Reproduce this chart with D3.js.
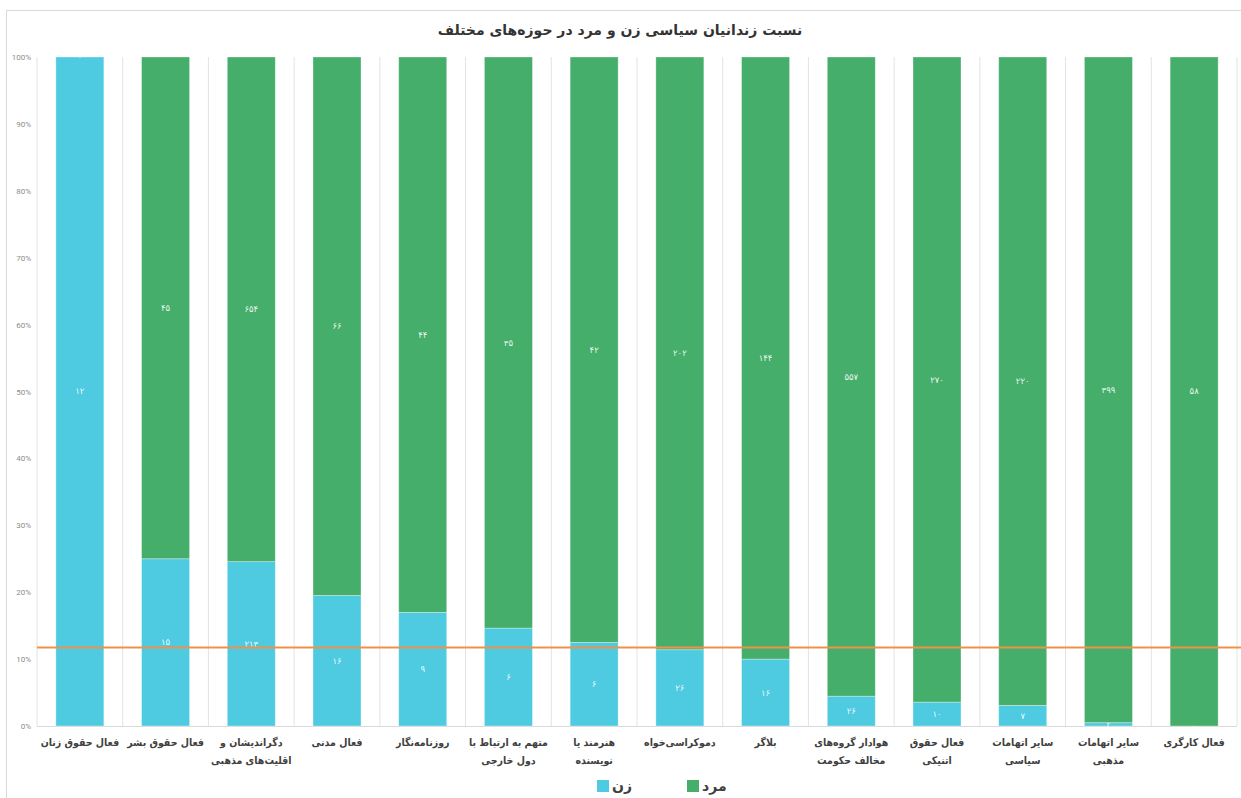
<!DOCTYPE html>
<html>
<head>
<meta charset="utf-8">
<script src="https://cdn.jsdelivr.net/npm/d3@7"></script>
<style>
  body { margin: 0; background: #fff; }
  svg { display: block; font-family: "DejaVu Sans", sans-serif; }
</style>
</head>
<body>
<svg id="chart" width="1241" height="798"></svg>
<script>
// categories, label lines split by "|"
const categories = [
    'فعال حقوق زنان',
    'فعال حقوق بشر',
    'دگراندیشان و|اقلیت‌های مذهبی',
    'فعال مدنی',
    'روزنامه‌نگار',
    'متهم به ارتباط با|دول خارجی',
    'هنرمند یا|نویسنده',
    'دموکراسی‌خواه',
    'بلاگر',
    'هوادار گروه‌های|مخالف حکومت',
    'فعال حقوق|اتنیکی',
    'سایر اتهامات|سیاسی',
    'سایر اتهامات|مذهبی',
    'فعال کارگری'
];
const women = [12, 15, 213, 16, 9, 6, 6, 26, 16, 26, 10, 7, 2, 0];
const men = [0, 45, 654, 66, 44, 35, 42, 202, 144, 557, 270, 220, 399, 58];
const yTicks = [0, 0.1, 0.2, 0.3, 0.4, 0.5, 0.6, 0.7, 0.8, 0.9, 1];
const seriesNames = ['زن', 'مرد'];
const title = 'نسبت زندانیان سیاسی زن و مرد در حوزه‌های مختلف';

const colors = { 'زن': '#4ecbe0', 'مرد': '#46ae6b' };
const faDigits = '۰۱۲۳۴۵۶۷۸۹';
const toFa = (n) => String(n).replace(/\d/g, (c) => faDigits[+c]);

const svg = d3.select('#chart');
const margin = { left: 37, right: 4, top: 57, bottom: 72 };
const W = 1241, H = 798;

// outer frame
svg.append('rect')
    .attr('x', 6.5).attr('y', 10.5)
    .attr('width', W).attr('height', H)
    .attr('fill', 'none')
    .attr('stroke', '#d9d9d9');

const rows = categories.map((c, i) => {
    const total = women[i] + men[i];
    return { cat: c, w: women[i], m: men[i], wp: women[i] / total, mp: men[i] / total };
});

const x = d3.scaleBand()
    .domain(categories)
    .range([margin.left, W - margin.right])
    .paddingInner(0.44)
    .paddingOuter(0.22);

const y = d3.scaleLinear().domain([0, 1]).range([H - margin.bottom, margin.top]);

// vertical grid lines between categories
const step = x.step();
const bounds = d3.range(categories.length + 1).map((i) => margin.left + i * step);
svg.append('g').selectAll('line')
    .data(bounds)
    .enter().append('line')
    .attr('x1', (d) => d).attr('x2', (d) => d)
    .attr('y1', y(1)).attr('y2', y(0))
    .attr('stroke', '#e3e3e3').attr('stroke-width', 1);

// baseline
svg.append('line')
    .attr('x1', margin.left).attr('x2', W - margin.right)
    .attr('y1', y(0) + 0.5).attr('y2', y(0) + 0.5)
    .attr('stroke', '#d9d9d9');

// y axis
const yAxis = d3.axisLeft(y).tickValues(yTicks).tickFormat(d3.format('.0%')).tickSize(0).tickPadding(6);
const yg = svg.append('g').attr('transform', `translate(${margin.left},0)`).call(yAxis);
yg.select('.domain').remove();
yg.selectAll('text').attr('fill', '#8c8c8c').attr('font-size', 8).attr('font-family', 'Roboto, sans-serif');

// stacked bars
const stack = d3.stack().keys(['wp', 'mp'])(rows);
const layers = svg.append('g').selectAll('g')
    .data(stack)
    .enter().append('g')
    .attr('fill', (d, i) => colors[seriesNames[i]]);

layers.selectAll('rect')
    .data((d) => d)
    .enter().append('rect')
    .attr('x', (d) => x(d.data.cat))
    .attr('width', x.bandwidth())
    .attr('y', (d) => y(d[1]))
    .attr('height', (d) => y(d[0]) - y(d[1]))
    .attr('stroke', '#ffffff')
    .attr('stroke-opacity', 0.4)
    .attr('stroke-width', 0.8);

// data labels
layers.each(function(layer, li) {
    const key = li === 0 ? 'w' : 'm';
    d3.select(this).selectAll('text')
        .data(layer)
        .enter().append('text')
        .attr('x', (d) => x(d.data.cat) + x.bandwidth() / 2)
        .attr('y', (d) => (y(d[0]) + y(d[1])) / 2)
        .attr('dy', '0.35em')
        .attr('text-anchor', 'middle')
        .attr('fill', '#ffffff')
        .attr('fill-opacity', 0.9)
        .attr('font-size', 8.5)
        .text((d) => toFa(d.data[key]));
});

// average line
const avg = d3.sum(women) / (d3.sum(women) + d3.sum(men));
svg.append('line')
    .attr('x1', margin.left).attr('x2', W)
    .attr('y1', y(avg)).attr('y2', y(avg))
    .attr('stroke', '#f0914a').attr('stroke-width', 2);

// x labels
const xl = svg.append('g').selectAll('text')
    .data(categories)
    .enter().append('text')
    .attr('transform', (d) => `translate(${x(d) + x.bandwidth() / 2},${y(0) + 20})`)
    .attr('fill', '#404040')
    .attr('font-family', '"DejaVu Sans Condensed", "DejaVu Sans", sans-serif')
    .attr('font-size', 10.5)
    .attr('font-weight', 'bold');
xl.selectAll('tspan')
    .data((d) => d.split('|'))
    .enter().append('tspan')
    .attr('x', 0)
    .attr('y', (d, i) => i * 18)
    .attr('text-anchor', 'middle')
    .text((d) => d);

// title
svg.append('text')
    .attr('x', 620).attr('y', 35)
    .attr('text-anchor', 'middle')
    .attr('fill', '#333')
    .attr('font-size', 14)
    .attr('font-weight', 'bold')
    .text(title);

// legend
const legendX = { 'زن': 597, 'مرد': 687 };
const legend = svg.append('g').selectAll('g')
    .data(seriesNames)
    .enter().append('g')
    .attr('transform', (d) => `translate(${legendX[d]},780)`);
legend.append('rect')
    .attr('width', 12).attr('height', 12)
    .attr('fill', (d) => colors[d]);
legend.append('text')
    .attr('x', 15).attr('y', 11)
    .attr('fill', '#404040')
    .attr('font-size', 14)
    .attr('font-weight', 'bold')
    .text((d) => d);
</script>
</body>
</html>
